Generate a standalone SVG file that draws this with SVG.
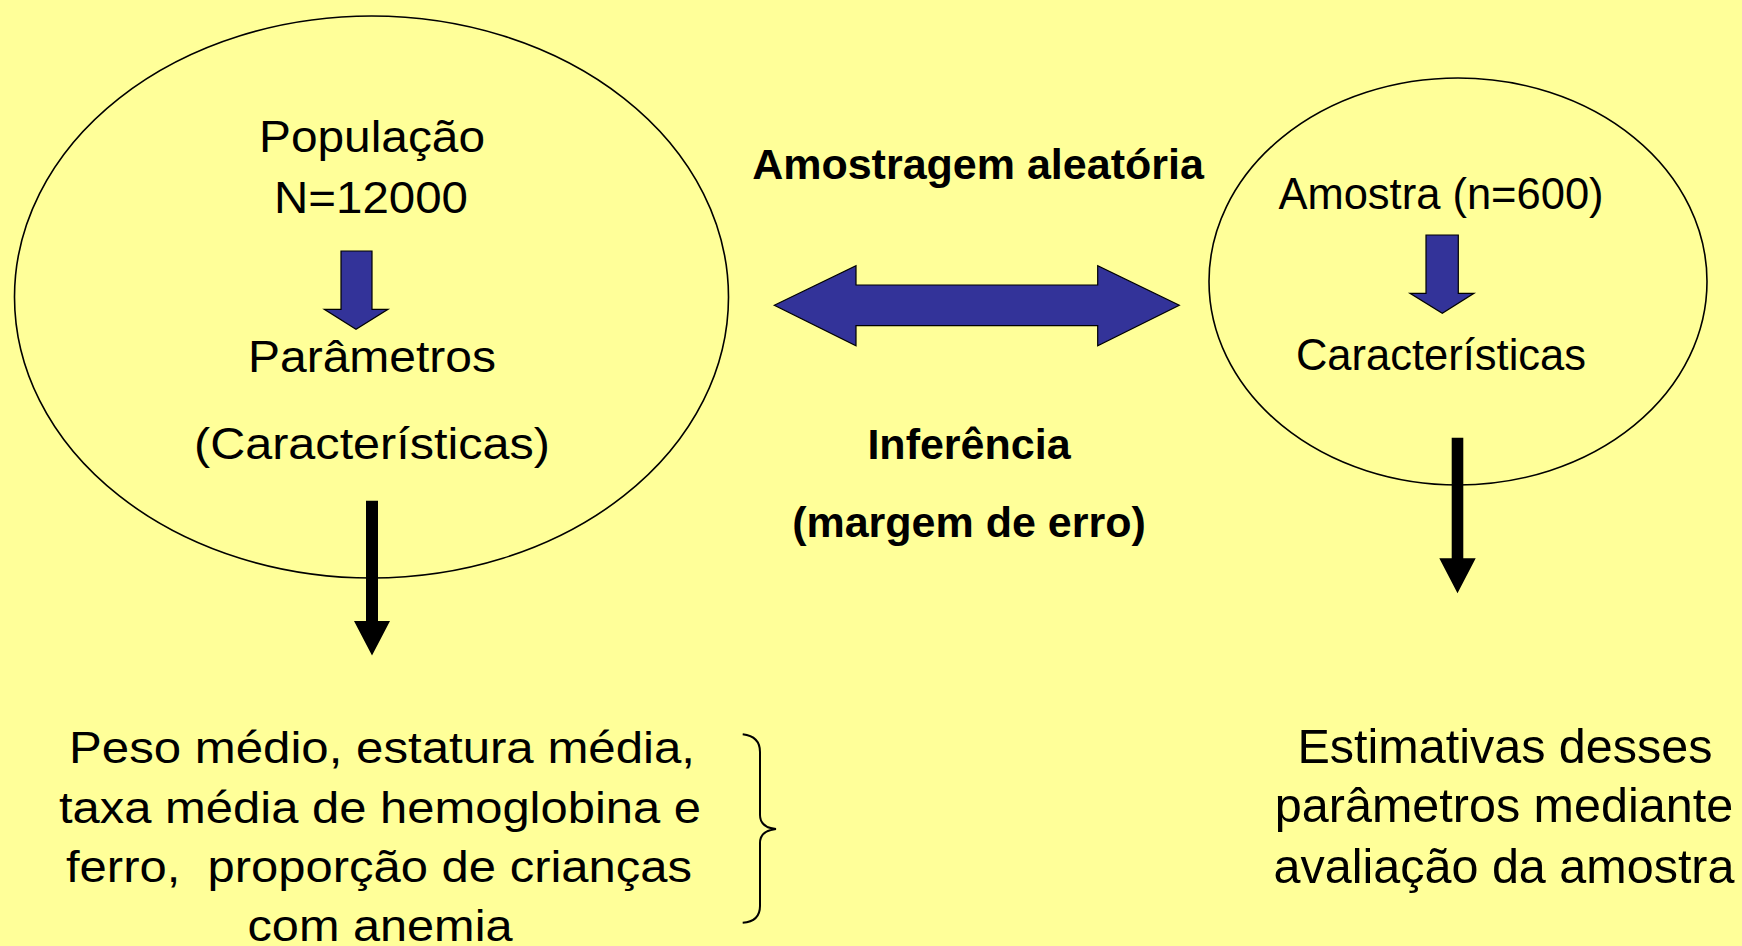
<svg xmlns="http://www.w3.org/2000/svg" width="1742" height="946" viewBox="0 0 1742 946">
<style>
.t{font-family:"Liberation Sans",Arial,Helvetica,sans-serif;fill:#000;text-anchor:middle}
.b{font-weight:bold;font-size:43px}
.l{font-size:45px}
.r{font-size:43.5px}
.big{font-size:48.5px}
.ell{fill:none;stroke:#000;stroke-width:1.6}
.blue{fill:#333399;stroke:#000;stroke-width:1.2;stroke-linejoin:miter}
.blk{fill:#000;stroke:none}
.brace{fill:none;stroke:#000;stroke-width:2}
</style>
<rect width="1742" height="946" fill="#FFFF99"/>
<g id="populacao">
<ellipse class="ell" cx="371.5" cy="297" rx="357" ry="281"/>
<text class="t l" x="372" y="152" textLength="226" lengthAdjust="spacingAndGlyphs">População</text>
<text class="t l" x="371" y="212.5" textLength="194" lengthAdjust="spacingAndGlyphs">N=12000</text>
<text class="t l" x="372" y="371.5" textLength="248" lengthAdjust="spacingAndGlyphs">Parâmetros</text>
<text class="t l" x="372" y="459" textLength="356" lengthAdjust="spacingAndGlyphs">(Características)</text>
</g>
<g id="amostra">
<ellipse class="ell" cx="1458" cy="281.5" rx="249" ry="203.5"/>
<text class="t r" x="1441" y="209.3">Amostra (n=600)</text>
<text class="t r" x="1441" y="370">Características</text>
</g>
<g id="amostragem-label">
<text class="t b" x="978" y="179">Amostragem aleatória</text>
</g>
<g id="inferencia-label">
<text class="t b" x="969" y="459">Inferência</text>
<text class="t b" x="969" y="537">(margem de erro)</text>
</g>
<g id="parametros-lista">
<text class="t l" x="382" y="763" textLength="626" lengthAdjust="spacingAndGlyphs">Peso médio, estatura média,</text>
<text class="t l" x="380" y="822.5" textLength="642" lengthAdjust="spacingAndGlyphs">taxa média de hemoglobina e</text>
<text class="t l" x="379" y="882" textLength="626" lengthAdjust="spacingAndGlyphs" xml:space="preserve">ferro,  proporção de crianças</text>
<text class="t l" x="380" y="941" textLength="265" lengthAdjust="spacingAndGlyphs">com anemia</text>
<path class="brace" d="M742.7,734.3 C753,735.5 760,741 760,752 L760,815 C760,823.5 766,828 776,829 C766,830 760,834.5 760,843 L760,906 C760,917 753,922 742.7,922.7"/>
</g>
<g id="estimativas">
<text class="t big" x="1505" y="763.3">Estimativas desses</text>
<text class="t big" x="1504" y="821.7">parâmetros mediante</text>
<text class="t big" x="1504" y="882.7">avaliação da amostra</text>
</g>
<g id="connectors">
<polygon class="blue" points="341,251 372,251 372,309.3 388,309.3 356,329.3 324.3,309.3 341,309.3"/>
<polygon class="blue" points="1426,235 1458.3,235 1458.3,293.3 1474,293.3 1442.3,313.3 1410,293.3 1426,293.3"/>
<polygon class="blue" points="774.3,305.3 856,265.7 856,285 1097.7,285 1097.7,265.7 1179.3,305.3 1097.7,345.7 1097.7,325.7 856,325.7 856,345.7"/>
<polygon class="blk" points="366,500.7 378,500.7 378,621 390,621 372,655.5 354,621 366,621"/>
<polygon class="blk" points="1451.7,437.7 1463.3,437.7 1463.3,558.3 1475.7,558.3 1457.5,593.3 1439.3,558.3 1451.7,558.3"/>
</g>
</svg>
